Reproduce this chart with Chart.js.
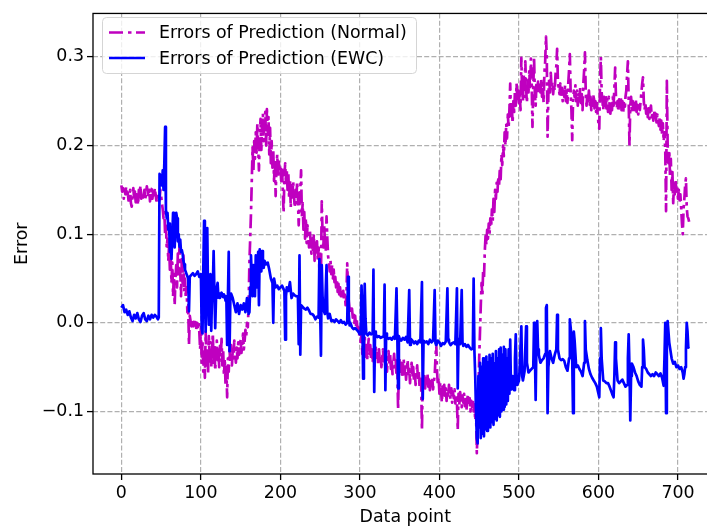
<!DOCTYPE html>
<html lang="en">
<head>
<meta charset="UTF-8">
<title>Errors of Prediction</title>
<script src="https://cdn.jsdelivr.net/npm/chart.js"></script>
<style>
  html, body { margin: 0; padding: 0; overflow: hidden; background: #fff; }
  #wrap { width: 720px; height: 531px; }
</style>
</head>
<body>
<div id="wrap"><canvas id="err-chart" width="720" height="531"></canvas></div>
<script>
// prediction error of the plain model, one value per data point (index = data point)
const normalErr = [
  0.155, 0.148, 0.152, 0.140, 0.150, 0.145, 0.154, 0.142, 0.147, 0.138,
  0.144, 0.150, 0.135, 0.131, 0.146, 0.152, 0.140, 0.148, 0.136, 0.145,
  0.141, 0.133, 0.150, 0.146, 0.155, 0.140, 0.147, 0.138, 0.144, 0.150,
  0.139, 0.146, 0.154, 0.148, 0.142, 0.150, 0.137, 0.146, 0.151, 0.140,
  0.148, 0.142, 0.152, 0.145, 0.138, 0.147, 0.141, 0.136, 0.140, 0.150,
  0.143, 0.135, 0.128, 0.118, 0.125, 0.100, 0.112, 0.085, 0.095, 0.070,
  0.088, 0.060, 0.075, 0.045, 0.068, 0.030, 0.055, 0.020, 0.050, 0.065,
  0.040, 0.078, 0.055, 0.085, 0.060, 0.030, 0.072, 0.045, 0.076, 0.035,
  0.050, 0.028, 0.040, 0.012, 0.020, -0.025, 0.008, 0.002, -0.004, 0.003,
  -0.006, 0.001, -0.003, 0.004, -0.008, 0.000, -0.005, 0.002, -0.010, -0.030,
  -0.005, -0.045, -0.020, -0.055, -0.035, -0.062, -0.010, -0.048, -0.028, -0.058,
  -0.015, -0.040, -0.022, -0.050, -0.030, -0.012, -0.045, -0.025, -0.054, -0.035,
  -0.020, -0.042, -0.030, -0.050, -0.026, -0.038, -0.018, -0.048, -0.030, -0.060,
  -0.040, -0.070, -0.050, -0.084, -0.040, -0.055, -0.030, -0.045, -0.025, -0.048,
  -0.032, -0.040, -0.020, -0.035, -0.045, -0.028, -0.040, -0.022, -0.036, -0.030,
  -0.018, -0.034, -0.025, -0.012, -0.030, -0.020, -0.008, -0.015, 0.000, -0.005,
  0.020, 0.068, 0.095, 0.124, 0.160, 0.198, 0.170, 0.205, 0.185, 0.215,
  0.192, 0.225, 0.200, 0.172, 0.210, 0.230, 0.195, 0.222, 0.236, 0.205,
  0.228, 0.238, 0.200, 0.241, 0.215, 0.232, 0.190, 0.220, 0.180, 0.205,
  0.175, 0.195, 0.160, 0.185, 0.143, 0.175, 0.190, 0.165, 0.182, 0.170,
  0.178, 0.160, 0.175, 0.150, 0.124, 0.165, 0.180, 0.158, 0.172, 0.150,
  0.168, 0.140, 0.162, 0.130, 0.155, 0.140, 0.160, 0.145, 0.130, 0.150,
  0.135, 0.160, 0.140, 0.110, 0.135, 0.150, 0.172, 0.120, 0.135, 0.105,
  0.125, 0.095, 0.118, 0.090, 0.110, 0.100, 0.085, 0.105, 0.092, 0.078,
  0.095, 0.080, 0.100, 0.070, 0.090, 0.076, 0.092, 0.070, 0.085, 0.060,
  0.080, 0.054, 0.137, 0.100, 0.085, 0.110, 0.092, 0.080, 0.120, 0.095,
  0.075, 0.068, 0.058, 0.070, 0.055, 0.065, 0.050, 0.060, 0.046, 0.052,
  0.040, 0.048, 0.035, 0.044, 0.032, 0.040, 0.030, 0.038, 0.028, 0.036,
  0.026, 0.032, 0.020, 0.030, 0.067, 0.040, 0.024, 0.015, 0.020, 0.010,
  0.016, 0.006, 0.012, 0.000, 0.008, -0.004, 0.004, -0.008, -0.002, -0.015,
  -0.006, -0.025, -0.010, -0.035, -0.018, -0.028, -0.013, -0.038, -0.022, -0.043,
  -0.030, -0.018, -0.035, -0.025, -0.040, -0.030, -0.045, -0.032, -0.050, -0.036,
  -0.028, -0.042, -0.034, -0.048, -0.030, -0.044, -0.036, -0.050, -0.040, -0.030,
  -0.045, -0.035, -0.050, -0.038, -0.055, -0.040, -0.032, -0.048, -0.036, -0.052,
  -0.040, -0.058, -0.045, -0.035, -0.050, -0.042, -0.060, -0.048, -0.098, -0.050,
  -0.040, -0.055, -0.045, -0.062, -0.048, -0.040, -0.058, -0.046, -0.064, -0.050,
  -0.042, -0.060, -0.052, -0.068, -0.055, -0.045, -0.062, -0.050, -0.066, -0.055,
  -0.070, -0.058, -0.048, -0.064, -0.055, -0.072, -0.060, -0.069, -0.121, -0.062,
  -0.070, -0.058, -0.074, -0.062, -0.068, -0.058, -0.072, -0.064, -0.076, -0.066,
  -0.072, -0.062, -0.075, -0.066, -0.060, -0.040, -0.024, -0.055, -0.070, -0.062,
  -0.080, -0.068, -0.075, -0.090, -0.072, -0.085, -0.070, -0.082, -0.074, -0.088,
  -0.076, -0.084, -0.070, -0.080, -0.086, -0.074, -0.090, -0.078, -0.085, -0.075,
  -0.091, -0.080, -0.088, -0.121, -0.080, -0.092, -0.078, -0.086, -0.095, -0.082,
  -0.090, -0.080, -0.094, -0.084, -0.098, -0.086, -0.080, -0.092, -0.085, -0.100,
  -0.088, -0.095, -0.086, -0.100, -0.092, -0.110, -0.100, -0.147, -0.120, -0.080,
  -0.040, -0.010, 0.020, 0.045, 0.030, 0.060, 0.050, 0.080, 0.098, 0.088,
  0.105, 0.095, 0.112, 0.100, 0.118, 0.108, 0.128, 0.115, 0.140, 0.125,
  0.150, 0.140, 0.158, 0.148, 0.165, 0.155, 0.175, 0.162, 0.190, 0.178,
  0.200, 0.188, 0.215, 0.200, 0.225, 0.208, 0.235, 0.220, 0.240, 0.270,
  0.232, 0.245, 0.225, 0.250, 0.238, 0.262, 0.245, 0.270, 0.250, 0.262,
  0.248, 0.258, 0.240, 0.299, 0.262, 0.250, 0.280, 0.255, 0.295, 0.265,
  0.248, 0.275, 0.260, 0.285, 0.262, 0.298, 0.270, 0.221, 0.265, 0.300,
  0.258, 0.245, 0.270, 0.262, 0.272, 0.258, 0.268, 0.260, 0.275, 0.255,
  0.270, 0.248, 0.282, 0.295, 0.323, 0.300, 0.210, 0.258, 0.275, 0.260,
  0.282, 0.265, 0.272, 0.258, 0.268, 0.262, 0.280, 0.290, 0.309, 0.272,
  0.265, 0.258, 0.270, 0.255, 0.265, 0.250, 0.262, 0.255, 0.268, 0.250,
  0.262, 0.248, 0.270, 0.285, 0.303, 0.260, 0.240, 0.206, 0.250, 0.262,
  0.255, 0.268, 0.250, 0.262, 0.245, 0.258, 0.250, 0.265, 0.248, 0.258,
  0.240, 0.270, 0.285, 0.305, 0.260, 0.245, 0.258, 0.250, 0.262, 0.246,
  0.255, 0.240, 0.252, 0.245, 0.258, 0.242, 0.250, 0.238, 0.248, 0.235,
  0.225, 0.219, 0.270, 0.300, 0.260, 0.250, 0.240, 0.255, 0.245, 0.258,
  0.242, 0.252, 0.238, 0.255, 0.246, 0.236, 0.250, 0.240, 0.255, 0.245,
  0.265, 0.288, 0.255, 0.242, 0.250, 0.238, 0.252, 0.245, 0.255, 0.240,
  0.250, 0.236, 0.248, 0.240, 0.255, 0.262, 0.280, 0.295, 0.250, 0.200,
  0.245, 0.255, 0.240, 0.250, 0.236, 0.248, 0.240, 0.252, 0.238, 0.246,
  0.235, 0.245, 0.240, 0.250, 0.260, 0.270, 0.277, 0.250, 0.240, 0.248,
  0.236, 0.245, 0.232, 0.242, 0.230, 0.240, 0.245, 0.232, 0.238, 0.228,
  0.240, 0.230, 0.236, 0.226, 0.235, 0.228, 0.222, 0.232, 0.218, 0.228,
  0.212, 0.225, 0.205, 0.215, 0.195, 0.126, 0.273, 0.200, 0.180, 0.195,
  0.165, 0.185, 0.150, 0.170, 0.135, 0.158, 0.145, 0.162, 0.148, 0.155,
  0.140, 0.150, 0.135, 0.145, 0.130, 0.112, 0.100, 0.128, 0.140, 0.155,
  0.163, 0.130, 0.120, 0.118, 0.114
];

// prediction error with EWC, [data point, error]
const ewcPoints = [
  [0, 0.017], [2, 0.020], [4, 0.012], [6, 0.015], [8, 0.009], [10, 0.013], [12, 0.006], [14, 0.002],
  [16, 0.009], [18, 0.005], [20, 0.011], [22, 0.004], [24, 0.001], [26, 0.008], [28, 0.011], [30, 0.004],
  [32, 0.002], [34, 0.008], [36, 0.004], [38, 0.009], [40, 0.006], [42, 0.009], [44, 0.007], [46, 0.004],
  [47, 0.006], [48, 0.168], [50, 0.165], [51, 0.155], [52, 0.172], [53, 0.150], [54, 0.180], [55, 0.221],
  [56, 0.128], [57, 0.118], [58, 0.124], [59, 0.105], [60, 0.112], [61, 0.080], [62, 0.095], [63, 0.072],
  [64, 0.098], [65, 0.124], [66, 0.112], [67, 0.085], [68, 0.110], [69, 0.124], [70, 0.118], [71, 0.092],
  [72, 0.100], [73, 0.086], [74, 0.094], [75, 0.080], [76, 0.082], [77, 0.078], [78, 0.070], [79, 0.066],
  [80, 0.060], [82, 0.055], [84, 0.050], [85, 0.013], [86, 0.052], [88, 0.054], [90, 0.056], [92, 0.053],
  [94, 0.055], [96, 0.058], [98, 0.052], [100, 0.055], [101, -0.006], [102, -0.012], [103, 0.060], [104, 0.115],
  [105, 0.030], [106, -0.010], [107, 0.050], [108, 0.107], [109, 0.030], [110, -0.002], [111, 0.046], [112, 0.055],
  [113, -0.009], [114, 0.030], [115, 0.040], [116, 0.081], [117, 0.035], [118, -0.006], [119, 0.028], [120, 0.040],
  [121, 0.045], [122, 0.030], [123, 0.028], [124, 0.033], [125, 0.030], [126, 0.034], [127, 0.031], [128, 0.029],
  [129, 0.032], [130, 0.030], [131, 0.025], [132, 0.030], [133, -0.025], [134, 0.030], [135, 0.080], [136, -0.032],
  [137, 0.025], [138, 0.033], [140, 0.028], [142, 0.020], [144, 0.012], [146, 0.022], [148, 0.010], [150, 0.020],
  [152, 0.015], [154, 0.022], [156, 0.012], [158, 0.028], [160, 0.010], [161, 0.012], [162, 0.040], [163, 0.076],
  [164, 0.050], [165, 0.030], [166, 0.065], [167, 0.045], [168, 0.030], [169, 0.076], [170, 0.060], [171, 0.040],
  [172, 0.080], [173, 0.020], [174, 0.083], [175, 0.062], [176, 0.058], [177, 0.081], [178, 0.068], [179, 0.062],
  [180, 0.070], [182, 0.066], [184, 0.068], [186, 0.060], [188, 0.050], [190, 0.045], [191, 0.000], [192, 0.050],
  [194, 0.040], [196, 0.042], [198, 0.038], [200, 0.040], [202, 0.042], [204, 0.038], [205, 0.036], [206, -0.019],
  [207, 0.030], [208, 0.040], [210, 0.036], [212, 0.046], [214, 0.028], [216, 0.033], [218, 0.031], [220, 0.030],
  [222, 0.030], [223, -0.024], [224, 0.076], [225, -0.036], [226, 0.020], [228, 0.018], [230, 0.016], [232, 0.015],
  [234, 0.017], [236, 0.014], [238, 0.010], [240, 0.010], [242, 0.008], [244, 0.004], [246, 0.007], [248, 0.006],
  [249, 0.072], [250, 0.012], [251, -0.037], [252, 0.065], [253, 0.030], [254, 0.015], [256, 0.010], [258, 0.065],
  [259, 0.012], [260, 0.005], [262, 0.010], [264, 0.002], [266, 0.003], [268, 0.001], [270, 0.004], [272, 0.002],
  [274, 0.000], [276, 0.003], [278, 0.000], [280, 0.001], [282, -0.002], [284, 0.000], [285, 0.052], [286, 0.010],
  [287, -0.003], [288, 0.000], [290, -0.005], [292, -0.007], [294, -0.006], [296, -0.008], [298, -0.010], [300, -0.013],
  [301, -0.012], [302, 0.042], [303, 0.010], [304, -0.063], [305, -0.010], [306, 0.044], [307, 0.005], [308, -0.012],
  [310, -0.014], [312, -0.011], [314, -0.013], [316, -0.012], [317, 0.060], [318, -0.078], [319, -0.010], [320, -0.013],
  [322, -0.016], [324, -0.015], [326, -0.017], [328, -0.016], [330, -0.015], [331, 0.043], [332, -0.076], [333, -0.012],
  [334, -0.016], [336, -0.018], [338, -0.017], [340, -0.019], [342, -0.016], [344, -0.018], [346, 0.039], [347, -0.012],
  [348, -0.074], [349, -0.015], [350, -0.018], [352, -0.020], [354, -0.017], [356, -0.019], [358, -0.016], [360, -0.022],
  [362, 0.037], [363, -0.025], [364, -0.018], [366, -0.020], [368, -0.023], [370, -0.021], [372, -0.024], [374, -0.020],
  [376, -0.022], [378, 0.046], [379, -0.086], [380, -0.020], [382, -0.022], [384, -0.021], [386, -0.024], [388, -0.019],
  [390, -0.022], [392, -0.020], [394, 0.037], [395, -0.023], [396, -0.025], [398, -0.020], [400, -0.022], [402, -0.026],
  [404, -0.023], [406, -0.024], [408, -0.021], [410, 0.039], [411, -0.019], [412, -0.022], [414, -0.025], [416, -0.023],
  [418, -0.022], [420, -0.024], [422, 0.039], [423, -0.074], [424, -0.018], [426, -0.024], [428, 0.037], [429, -0.022],
  [430, -0.026], [432, -0.024], [434, -0.027], [436, -0.025], [438, -0.028], [440, -0.030], [442, -0.029], [443, 0.050],
  [444, -0.032], [445, -0.060], [446, -0.100], [447, -0.130], [448, -0.136], [449, -0.060], [450, -0.118], [451, -0.045],
  [452, -0.130], [453, -0.050], [454, -0.125], [455, -0.040], [456, -0.128], [457, -0.048], [458, -0.120], [459, -0.038],
  [460, -0.122], [461, -0.045], [462, -0.116], [463, -0.036], [464, -0.118], [465, -0.040], [466, -0.112], [467, -0.035],
  [468, -0.115], [469, -0.046], [470, -0.108], [471, -0.032], [472, -0.110], [473, -0.040], [474, -0.104], [475, -0.030],
  [476, -0.106], [477, -0.028], [478, -0.100], [479, -0.036], [480, -0.098], [481, -0.027], [482, -0.095], [483, -0.030],
  [484, -0.092], [485, -0.040], [486, -0.088], [487, -0.030], [488, -0.080], [489, -0.019], [490, -0.075], [491, -0.070],
  [492, -0.060], [494, -0.076], [495, -0.040], [496, -0.013], [497, -0.060], [498, -0.070], [500, -0.065], [501, -0.050],
  [503, -0.004], [504, -0.060], [505, -0.065], [506, -0.060], [507, -0.055], [509, -0.004], [510, -0.045], [512, -0.056],
  [514, -0.054], [516, -0.052], [518, -0.050], [519, 0.000], [520, -0.030], [521, -0.087], [522, -0.020], [523, 0.002],
  [524, -0.030], [525, -0.036], [527, -0.045], [529, -0.042], [531, -0.040], [533, -0.035], [534, 0.017], [535, 0.020],
  [536, -0.102], [537, -0.050], [539, -0.032], [541, -0.040], [543, -0.045], [545, -0.036], [547, -0.030], [548, 0.009],
  [549, -0.030], [551, -0.040], [553, -0.042], [555, -0.041], [557, -0.043], [559, -0.050], [561, -0.054], [563, -0.040],
  [564, 0.004], [565, -0.005], [566, -0.015], [567, -0.040], [568, -0.102], [569, -0.010], [570, -0.020], [572, -0.050],
  [574, -0.048], [576, -0.052], [578, -0.055], [580, -0.060], [582, -0.045], [583, 0.002], [584, -0.030], [586, -0.042],
  [588, -0.052], [590, -0.058], [592, -0.062], [594, -0.065], [596, -0.068], [598, -0.072], [600, -0.080], [601, -0.084],
  [602, -0.040], [603, -0.006], [604, -0.040], [606, -0.065], [608, -0.066], [610, -0.068], [612, -0.068], [614, -0.072],
  [616, -0.077], [618, -0.082], [619, -0.084], [620, -0.060], [621, -0.022], [622, -0.040], [624, -0.065], [626, -0.068],
  [628, -0.066], [630, -0.064], [632, -0.068], [634, -0.072], [636, -0.070], [637, -0.040], [638, -0.013], [639, -0.050],
  [640, -0.110], [641, -0.060], [642, -0.046], [644, -0.050], [646, -0.056], [648, -0.060], [650, -0.066], [652, -0.070],
  [654, -0.072], [655, -0.050], [656, -0.019], [657, -0.030], [658, -0.050], [660, -0.052], [662, -0.056], [664, -0.058],
  [666, -0.060], [668, -0.058], [670, -0.060], [672, -0.056], [674, -0.058], [676, -0.060], [678, -0.057], [680, -0.062],
  [682, -0.071], [683, -0.040], [684, 0.000], [685, -0.102], [686, -0.020], [687, 0.002], [688, -0.010], [689, -0.022],
  [690, -0.028], [692, -0.040], [694, -0.046], [696, -0.044], [698, -0.050], [700, -0.048], [702, -0.052], [704, -0.050],
  [706, -0.056], [707, -0.063], [708, -0.058], [709, -0.050], [710, -0.030], [711, 0.000], [712, -0.010], [713, -0.028],
  [714, -0.027]
];

const xTicks = [0, 100, 200, 300, 400, 500, 600, 700];
const yTicks = [-0.1, 0.0, 0.1, 0.2, 0.3];
const seriesLabels = ['Errors of Prediction (Normal)', 'Errors of Prediction (EWC)'];

const FONT = '"DejaVu Sans", sans-serif';
const FONT_SIZE = 17.4;
const NORMAL_COLOR = '#bf00bf';
const EWC_COLOR = '#0000ff';
const LINE_W = 2.7;
const DASH_DOT = [14, 5, 3.5, 4.5];

// black frame round the plot area plus the legend box in the upper left
const frameAndLegend = {
  id: 'frameAndLegend',
  afterDraw(chart) {
    const ctx = chart.ctx;
    const a = chart.chartArea;
    ctx.save();
    ctx.strokeStyle = '#000';
    ctx.lineWidth = 1.3;
    ctx.setLineDash([]);
    ctx.strokeRect(a.left, a.top, a.right - a.left, a.bottom - a.top);

    // legend
    const bx = 102.5, by = 17.5, bw = 314, bh = 56, r = 4;
    ctx.beginPath();
    ctx.moveTo(bx + r, by);
    ctx.arcTo(bx + bw, by, bx + bw, by + bh, r);
    ctx.arcTo(bx + bw, by + bh, bx, by + bh, r);
    ctx.arcTo(bx, by + bh, bx, by, r);
    ctx.arcTo(bx, by, bx + bw, by, r);
    ctx.closePath();
    ctx.fillStyle = 'rgba(255,255,255,0.8)';
    ctx.fill();
    ctx.strokeStyle = '#d5d5d5';
    ctx.lineWidth = 1;
    ctx.stroke();

    const rows = [
      { y: 32.5, color: NORMAL_COLOR, dash: DASH_DOT, text: seriesLabels[0] },
      { y: 58, color: EWC_COLOR, dash: [], text: seriesLabels[1] }
    ];
    ctx.font = FONT_SIZE + 'px ' + FONT;
    ctx.textBaseline = 'middle';
    ctx.textAlign = 'left';
    rows.forEach(row => {
      ctx.beginPath();
      ctx.setLineDash(row.dash);
      ctx.strokeStyle = row.color;
      ctx.lineWidth = LINE_W;
      ctx.moveTo(109, row.y);
      ctx.lineTo(145, row.y);
      ctx.stroke();
      ctx.setLineDash([]);
      ctx.fillStyle = '#000';
      ctx.fillText(row.text, 159, row.y + 1);
    });
    ctx.restore();
  }
};

const tickFont = { family: FONT, size: FONT_SIZE };

new Chart(document.getElementById('err-chart').getContext('2d'), {
  type: 'line',
  data: {
    datasets: [
      {
        label: seriesLabels[0],
        data: normalErr.map((v, i) => ({ x: i, y: v })),
        borderColor: NORMAL_COLOR,
        borderWidth: LINE_W,
        borderDash: DASH_DOT,
        borderJoinStyle: 'round',
        pointRadius: 0,
        tension: 0,
        order: 2
      },
      {
        label: seriesLabels[1],
        data: ewcPoints.map(p => ({ x: p[0], y: p[1] })),
        borderColor: EWC_COLOR,
        borderWidth: LINE_W,
        borderJoinStyle: 'round',
        pointRadius: 0,
        tension: 0,
        order: 1
      }
    ]
  },
  options: {
    responsive: false,
    animation: false,
    layout: { padding: { left: 0, top: 9, right: 2.5, bottom: 0 } },
    plugins: { legend: { display: false }, tooltip: { enabled: false } },
    scales: {
      x: {
        type: 'linear',
        min: -35.7,
        max: 749.7,
        afterBuildTicks: axis => { axis.ticks = xTicks.map(v => ({ value: v })); },
        afterFit: axis => { axis.height = 57; },
        grid: { color: '#b0b0b0', lineWidth: 1.2, tickColor: '#000', tickLength: 6, tickWidth: 1.3, tickBorderDash: [] },
        border: { display: false, dash: [5, 2.2] },
        ticks: { color: '#000', font: tickFont, padding: 3, maxRotation: 0, autoSkip: false },
        title: { display: true, text: 'Data point', color: '#000', font: tickFont, padding: { top: 0, bottom: 3 } }
      },
      y: {
        min: -0.1705,
        max: 0.349,
        afterBuildTicks: axis => { axis.ticks = yTicks.map(v => ({ value: v })); },
        afterFit: axis => { axis.width = 93; },
        grid: { color: '#b0b0b0', lineWidth: 1.2, tickColor: '#000', tickLength: 6, tickWidth: 1.3, tickBorderDash: [] },
        border: { display: false, dash: [5, 2.2] },
        ticks: {
          color: '#000', font: tickFont, padding: 3, autoSkip: false,
          callback: v => (v < 0 ? '\u2212' : '') + Math.abs(v).toFixed(1)
        },
        title: { display: true, text: 'Error', color: '#000', font: tickFont, padding: { top: 12, bottom: 0 } }
      }
    }
  },
  plugins: [frameAndLegend]
});
</script>
</body>
</html>
